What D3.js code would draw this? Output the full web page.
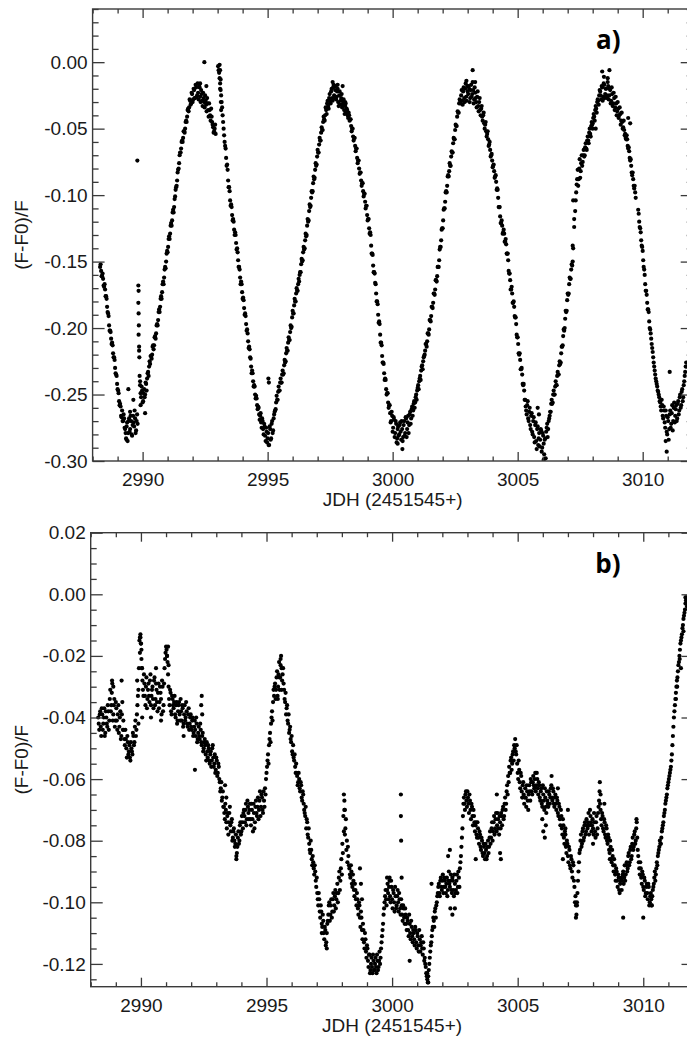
<!DOCTYPE html>
<html>
<head>
<meta charset="utf-8">
<script src="https://cdn.jsdelivr.net/npm/d3@7"></script>
<style>
  html, body { margin: 0; padding: 0; background: #fff; }
  svg { display: block; }
</style>
</head>
<body>
<svg id="fig" width="687" height="1037"></svg>
<script>
// Light curves, JDH - 2451545. Two interleaved exposure sequences per star,
// each sampled every 0.04 d; null marks a gap.
const cadence = 0.04;

// Panel a
const startA = 2988.30;
const fluxA = [
  -.154,-.157,-.161,-.163,-.169,-.171,-.176,-.184,-.189,-.198,-.202,-.208,-.211,-.219,-.222,-.230,-.235,-.242,-.247,-.255,-.257,-.266,-.262,-.270,-.268,
  -.276,-.283,-.271,-.279,-.268,-.276,-.270,-.281,-.266,-.274,-.268,-.277,-.265,null,null,-.243,-.252,-.247,-.255,-.246,-.250,-.242,-.238,-.233,-.229,
  -.227,-.221,-.220,-.213,-.213,-.206,-.204,-.197,-.194,-.186,-.184,-.176,-.173,-.165,-.162,-.154,-.150,-.142,-.139,-.131,-.129,-.121,-.119,-.111,-.109,
  -.101,-.094,-.089,-.081,-.076,-.068,-.065,-.059,-.057,-.052,-.050,-.044,-.041,-.035,-.034,-.029,-.031,-.024,-.028,-.021,-.027,-.019,-.025,-.023,-.018,
  -.026,-.021,-.029,-.023,-.030,-.025,-.032,-.027,-.036,-.031,-.040,-.035,-.045,-.049,-.052,-.047,null,null,-.003,-.008,-.016,-.025,-.034,-.045,-.055,
  -.063,-.072,-.077,-.089,-.094,-.104,-.107,-.115,-.118,-.126,-.128,-.136,-.140,-.149,-.154,-.162,-.165,-.173,-.177,-.185,-.189,-.197,-.201,-.210,-.214,
  -.222,-.229,-.232,-.240,-.243,-.250,-.251,-.258,-.259,-.265,-.266,-.271,-.268,-.276,-.272,-.281,-.275,-.286,-.279,-.288,-.276,-.283,-.270,-.277,-.265,
  -.262,-.256,-.254,-.248,-.247,-.241,-.241,-.235,-.235,-.228,-.226,-.219,-.217,-.211,-.209,-.203,-.200,-.192,-.189,-.183,-.180,-.174,-.172,-.167,-.165,
  -.158,-.152,-.150,-.143,-.141,-.134,-.131,-.123,-.120,-.112,-.109,-.102,-.098,-.091,-.088,-.081,-.078,-.071,-.068,-.062,-.059,-.053,-.051,-.045,-.043,
  -.040,-.036,-.031,-.033,-.027,-.029,-.022,-.027,-.019,-.025,-.021,-.028,-.022,-.030,-.025,-.032,-.027,-.034,-.030,-.036,-.033,-.038,-.036,-.042,-.040,
  -.043,-.048,-.050,-.056,-.057,-.063,-.065,-.072,-.074,-.080,-.083,-.089,-.091,-.097,-.099,-.105,-.108,-.115,-.118,-.125,-.128,-.138,-.144,-.153,-.158,
  -.166,-.174,-.180,-.190,-.195,-.205,-.211,-.221,-.226,-.234,-.238,-.246,-.249,-.256,-.258,-.264,-.270,-.266,-.275,-.269,-.279,-.272,-.283,-.274,-.280,
  -.271,-.284,-.276,-.282,-.270,-.279,-.268,-.276,-.266,-.273,-.263,-.268,-.259,-.262,-.255,-.256,-.250,-.247,-.243,-.240,-.236,-.232,-.228,-.225,-.221,
  -.217,-.212,-.210,-.204,-.201,-.194,-.191,-.184,-.181,-.174,-.171,-.164,-.161,-.154,-.149,-.139,-.134,-.125,-.119,-.110,-.105,-.097,-.093,-.085,-.082,
  -.078,-.071,-.068,-.061,-.058,-.051,-.048,-.041,-.038,-.031,-.029,-.025,-.029,-.022,-.027,-.020,-.026,-.018,-.024,-.020,-.027,-.017,-.024,-.021,-.028,
  -.023,-.030,-.026,-.033,-.030,-.036,-.035,-.041,-.040,-.046,-.047,-.052,-.054,-.058,-.062,-.066,-.070,-.074,-.078,-.082,-.086,-.090,-.095,-.102,-.109,
  -.116,-.121,-.123,-.128,-.129,-.135,-.137,-.144,-.149,-.159,-.164,-.171,-.174,-.181,-.184,-.192,-.197,-.207,-.212,-.220,-.224,-.231,-.235,-.243,-.247,
  -.254,-.262,-.258,-.268,-.263,-.273,-.266,-.278,-.270,-.282,-.273,-.285,-.276,-.288,-.279,-.284,-.277,-.290,-.281,-.295,-.283,-.278,-.272,-.276,-.268,
  -.263,-.257,-.257,-.250,-.250,-.244,-.243,-.236,-.235,-.228,-.227,-.219,-.214,-.206,-.202,-.193,-.188,-.179,-.175,-.167,-.163,-.156,-.153,-.140,-.124,
  -.112,-.098,-.088,-.093,-.080,-.087,-.076,-.078,-.070,-.071,-.064,-.065,-.059,-.059,-.053,-.054,-.048,-.047,-.042,-.041,-.036,-.035,-.030,-.029,-.025,
  -.022,-.028,-.019,-.026,-.017,-.024,-.020,-.027,-.018,-.025,-.021,-.029,-.024,-.031,-.027,-.034,-.031,-.037,-.035,-.040,-.039,-.044,-.045,-.049,-.051,
  -.054,-.058,-.058,-.065,-.067,-.074,-.078,-.085,-.088,-.095,-.098,null,null,-.111,-.120,-.125,-.134,-.139,-.149,-.156,-.167,-.172,-.181,-.186,-.195,
  -.201,-.208,-.215,-.222,-.229,-.235,-.240,-.244,-.248,-.252,-.256,-.262,-.258,-.268,-.262,-.275,-.266,-.280,-.270,-.276,-.262,-.272,-.258,-.270,-.256,
  -.266,-.258,-.268,-.255,-.262,-.250,-.258,-.246,-.252,-.240,-.233,-.226
];
const startA2 = 2988.32;
const fluxA2 = [
  -.152,-.161,-.159,-.168,-.167,-.176,-.178,-.188,-.191,-.202,-.203,-.212,-.213,-.222,-.224,-.234,-.236,-.246,-.249,-.258,-.259,-.267,-.270,-.265,-.275,
  -.279,-.274,-.285,-.270,-.278,-.266,-.280,-.273,-.271,-.262,-.279,-.270,-.272,null,null,-.249,-.244,-.256,-.249,-.252,-.241,-.247,-.234,-.236,-.225,
  -.221,-.223,-.214,-.216,-.207,-.208,-.198,-.198,-.188,-.188,-.178,-.178,-.167,-.167,-.156,-.155,-.144,-.143,-.133,-.133,-.123,-.123,-.113,-.113,-.103,
  -.096,-.093,-.083,-.080,-.070,-.068,-.060,-.060,-.052,-.053,-.045,-.045,-.036,-.037,-.028,-.032,-.023,-.030,-.020,-.027,-.017,-.026,-.016,-.028,-.019,
  -.030,-.024,-.033,-.027,-.034,-.029,-.037,-.031,-.041,-.036,-.044,-.041,-.047,-.053,-.050,-.054,null,null,-.006,-.012,-.021,-.030,-.040,-.050,-.060,
  -.065,-.078,-.081,-.094,-.097,-.108,-.109,-.119,-.120,-.130,-.130,-.141,-.143,-.154,-.156,-.167,-.167,-.178,-.179,-.190,-.191,-.202,-.204,-.215,-.216,
  -.223,-.234,-.234,-.244,-.244,-.253,-.253,-.261,-.260,-.269,-.264,-.275,-.270,-.280,-.274,-.285,-.278,-.283,-.288,-.274,-.284,-.272,-.279,-.268,-.263,
  -.261,-.251,-.254,-.244,-.247,-.238,-.241,-.232,-.234,-.224,-.225,-.215,-.217,-.207,-.209,-.198,-.199,-.187,-.189,-.178,-.180,-.170,-.172,-.163,-.160,
  -.158,-.148,-.149,-.139,-.140,-.129,-.130,-.118,-.119,-.107,-.108,-.097,-.097,-.086,-.087,-.076,-.077,-.066,-.068,-.057,-.059,-.049,-.051,-.041,-.044,
  -.034,-.039,-.029,-.035,-.024,-.031,-.020,-.029,-.017,-.027,-.018,-.026,-.020,-.033,-.022,-.029,-.024,-.032,-.028,-.039,-.031,-.035,-.040,-.038,-.044,
  -.043,-.052,-.050,-.059,-.057,-.067,-.065,-.076,-.074,-.084,-.083,-.093,-.091,-.101,-.099,-.110,-.108,-.119,-.118,-.129,-.130,-.144,-.145,-.158,-.159,
  -.167,-.180,-.182,-.196,-.197,-.211,-.213,-.226,-.227,-.239,-.239,-.250,-.249,-.260,-.258,-.271,-.263,-.278,-.267,-.282,-.270,-.286,-.276,-.281,-.273,
  -.278,-.270,-.285,-.273,-.281,-.267,-.282,-.271,-.279,-.265,-.272,-.261,-.266,-.257,-.260,-.252,-.254,-.245,-.246,-.238,-.239,-.229,-.231,-.222,-.220,
  -.212,-.214,-.204,-.205,-.194,-.195,-.184,-.185,-.174,-.175,-.164,-.165,-.154,-.154,-.141,-.139,-.126,-.125,-.111,-.110,-.098,-.098,-.086,-.086,-.076,
  -.078,-.067,-.068,-.057,-.058,-.047,-.048,-.037,-.038,-.028,-.031,-.021,-.032,-.019,-.030,-.016,-.029,-.022,-.018,-.030,-.021,-.026,-.015,-.031,-.019,
  -.027,-.034,-.022,-.037,-.027,-.040,-.033,-.044,-.038,-.050,-.045,-.056,-.052,-.063,-.060,-.071,-.069,-.079,-.077,-.087,-.085,-.096,-.096,-.109,-.109,
  -.121,-.119,-.129,-.126,-.135,-.133,-.144,-.144,-.157,-.159,-.171,-.169,-.181,-.180,-.191,-.192,-.205,-.207,-.219,-.219,-.231,-.230,-.242,-.242,-.254,
  -.259,-.265,-.255,-.270,-.260,-.276,-.264,-.280,-.267,-.286,-.271,-.291,-.274,-.283,-.289,-.276,-.293,-.279,-.287,-.284,-.298,-.275,-.282,-.270,-.266,
  -.263,-.254,-.256,-.247,-.250,-.240,-.243,-.233,-.235,-.225,-.226,-.214,-.213,-.201,-.200,-.187,-.187,-.174,-.174,-.162,-.163,-.152,-.150,null,null,
  -.104,-.092,-.081,-.088,-.073,-.082,-.070,-.075,-.066,-.070,-.061,-.066,-.056,-.061,-.050,-.056,-.045,-.050,-.039,-.044,-.033,-.038,-.028,-.032,-.021,
  -.025,-.018,-.029,-.016,-.027,-.020,-.025,-.015,-.028,-.020,-.031,-.019,-.033,-.023,-.036,-.026,-.040,-.030,-.042,-.034,-.047,-.038,-.050,-.044,-.055,
  -.057,-.055,-.063,-.064,-.072,-.073,-.083,-.083,-.093,-.093,-.102,null,null,-.114,-.124,-.128,-.138,-.142,-.154,-.160,-.172,-.175,-.186,-.188,-.200,
  -.204,-.212,-.218,-.226,-.232,-.238,-.242,-.247,-.250,-.255,-.259,-.254,-.266,-.259,-.271,-.262,-.278,-.267,-.284,-.265,-.275,-.264,-.277,-.260,-.271,
  -.261,-.270,-.257,-.265,-.252,-.260,-.248,-.255,-.243,-.236,-.229
];
// Off-cadence and outlying measurements, [JDH, (F-F0)/F]
const extraA = [
  [2989.79,-.074],[2989.36,-.284],[2989.43,-.246],[2989.50,-.263],[2989.63,-.254],
  [2989.83,-.168],[2989.84,-.172],[2989.83,-.181],[2989.84,-.189],[2989.85,-.198],[2989.84,-.205],
  [2989.86,-.214],[2989.86,-.217],[2989.87,-.222],[2989.88,-.236],[2989.90,-.240],[2989.92,-.258],[2990.10,-.264],
  [2992.47,.000],[2992.30,-.016],[2992.55,-.018],
  [2993.08,-.002],[2993.10,-.006],[2993.12,-.013],[2993.10,-.020],[2993.13,-.030],[2993.14,-.036],
  [2995.03,-.238],[2995.05,-.241],
  [2997.60,-.015],[2997.80,-.017],[2998.00,-.018],[2998.10,-.030],
  [3000.39,-.291],[3000.20,-.287],
  [3002.95,-.014],[3003.20,-.006],[3003.30,-.015],
  [3005.80,-.260],[3005.85,-.265],[3006.04,-.299],
  [3007.22,-.104],[3007.26,-.118],[3007.20,-.138],
  [3008.00,-.046],[3008.12,-.050],[3008.38,-.007],[3008.45,-.011],[3008.60,-.012],[3008.67,-.006],
  [3009.42,-.042],[3009.50,-.046],
  [3010.92,-.285],[3010.96,-.293],[3011.08,-.233]
];

// Panel b
const startB = 2988.30;
const fluxB = [
  -.040,-.044,-.038,-.046,-.039,-.042,-.037,-.045,-.040,-.043,-.038,-.041,-.031,-.036,-.029,-.039,-.034,-.041,-.037,-.044,-.036,-.043,-.038,-.046,-.035,
  -.041,-.047,-.044,-.050,-.046,-.052,-.049,-.054,-.050,-.052,-.046,-.048,-.041,-.044,-.036,-.031,-.015,-.013,-.018,-.028,-.033,-.029,-.036,-.027,-.034,
  -.029,-.035,-.026,-.033,-.030,-.037,-.027,-.034,-.031,-.038,-.029,-.035,-.032,-.039,-.030,-.036,-.024,-.019,-.018,-.022,-.030,-.036,-.032,-.039,-.034,
  -.037,-.033,-.040,-.035,-.041,-.036,-.039,-.034,-.041,-.037,-.042,-.036,-.040,-.038,-.043,-.037,-.042,-.039,-.044,-.040,-.045,-.041,-.046,-.042,-.047,
  -.043,-.047,-.044,-.049,-.045,-.050,-.047,-.052,-.048,-.053,-.050,-.055,-.051,-.054,-.049,-.056,-.052,-.057,-.054,-.058,-.056,-.061,-.063,-.067,-.064,
  -.069,-.073,-.070,-.076,-.071,-.074,-.069,-.077,-.073,-.079,-.076,-.082,-.078,-.084,-.079,-.081,-.075,-.078,-.072,-.076,-.070,-.074,-.068,-.073,-.069,
  -.073,-.068,-.075,-.070,-.077,-.071,-.074,-.067,-.072,-.066,-.070,-.064,-.069,-.066,-.071,-.067,-.063,-.060,-.056,-.052,-.049,-.045,-.042,-.038,-.035,
  -.033,-.029,-.031,-.025,-.030,-.022,-.027,-.020,-.028,-.024,-.031,-.035,-.039,-.036,-.042,-.045,-.043,-.048,-.051,-.049,-.054,-.056,-.055,-.059,-.061,
  -.060,-.064,-.062,-.067,-.065,-.070,-.072,-.076,-.074,-.079,-.081,-.084,-.083,-.088,-.087,-.091,-.090,-.095,-.097,-.101,-.099,-.105,-.103,-.108,-.106,
  -.112,-.109,-.113,-.107,-.104,-.100,-.104,-.099,-.103,-.097,-.101,-.096,-.099,-.094,-.097,-.090,-.093,-.086,-.081,-.072,-.067,-.076,-.083,-.087,-.085,
  -.089,-.092,-.090,-.095,-.093,-.098,-.096,-.101,-.099,-.104,-.101,-.108,-.105,-.112,-.109,-.115,-.112,-.118,-.115,-.121,-.117,-.122,-.118,-.123,-.119,
  -.122,-.118,-.123,-.119,-.121,-.116,-.118,-.113,-.109,-.104,-.100,-.096,-.101,-.094,-.099,-.093,-.100,-.095,-.102,-.097,-.103,-.098,-.101,-.096,-.103,
  -.099,-.104,-.101,-.106,-.102,-.107,-.104,-.109,-.106,-.111,-.107,-.112,-.108,-.113,-.110,-.114,-.109,-.115,-.111,-.116,-.112,-.114,-.111,-.117,-.115,
  -.118,-.121,-.124,-.126,-.122,-.118,-.114,-.111,-.108,-.106,-.103,-.105,-.100,-.097,-.094,-.098,-.092,-.096,-.091,-.095,-.093,-.097,-.092,-.096,-.090,
  -.095,-.091,-.097,-.093,-.098,-.094,-.096,-.091,-.095,-.092,-.089,-.085,-.079,-.072,-.066,-.070,-.064,-.069,-.066,-.071,-.067,-.073,-.069,-.075,-.072,
  -.077,-.074,-.079,-.076,-.081,-.078,-.083,-.080,-.085,-.082,-.086,-.083,-.085,-.080,-.082,-.077,-.079,-.074,-.077,-.072,-.076,-.071,-.075,-.073,-.078,
  -.074,-.071,-.075,-.069,-.072,-.066,-.068,-.062,-.059,-.056,-.058,-.053,-.055,-.051,-.049,-.047,-.052,-.055,-.060,-.057,-.063,-.059,-.066,-.061,-.068,
  -.063,-.069,-.064,-.070,-.062,-.067,-.061,-.065,-.059,-.063,-.058,-.062,-.060,-.065,-.062,-.067,-.063,-.069,-.065,-.070,-.066,-.071,-.067,-.069,-.065,
  -.066,-.062,-.067,-.064,-.069,-.065,-.070,-.067,-.072,-.069,-.075,-.072,-.078,-.075,-.081,-.078,-.084,-.081,-.087,-.083,-.089,-.086,-.092,-.088,-.095,
  -.098,-.104,-.097,-.090,-.084,-.080,-.082,-.077,-.080,-.075,-.078,-.073,-.076,-.071,-.075,-.072,-.077,-.073,-.078,-.074,-.079,-.072,-.076,-.069,-.064,
  -.070,-.075,-.072,-.077,-.074,-.079,-.076,-.081,-.079,-.084,-.082,-.087,-.085,-.090,-.088,-.093,-.090,-.095,-.092,-.097,-.093,-.096,-.091,-.094,-.088,
  -.091,-.087,-.089,-.084,-.087,-.082,-.085,-.079,-.082,-.077,-.080,-.074,-.083,-.087,-.091,-.089,-.094,-.091,-.096,-.093,-.097,-.094,-.099,-.095,-.100,
  -.097,-.101,-.096,-.094,-.090,-.091,-.087,-.085,-.083,-.080,-.081,-.077,-.075,-.072,-.070,-.067,-.065,-.062,-.060,-.058,-.056,-.052,-.046,-.040,-.036,
  -.032,-.028,-.025,-.022,-.018,-.015,-.013,-.010,-.007,-.005,-.002,-.004
];
const startB2 = 2988.32;
const fluxB2 = [
  -.042,-.039,-.043,-.037,-.044,-.040,-.046,-.038,-.042,-.036,-.044,-.034,-.038,-.032,-.041,-.036,-.043,-.035,-.041,-.039,-.045,-.040,-.047,-.039,-.044,
  -.044,-.049,-.047,-.053,-.048,-.051,-.053,-.048,-.051,-.045,-.049,-.043,-.046,-.039,-.033,-.024,-.014,-.016,-.024,-.031,-.026,-.033,-.030,-.037,-.031,
  -.033,-.028,-.036,-.031,-.034,-.028,-.036,-.029,-.035,-.032,-.037,-.030,-.034,-.028,-.038,-.029,-.021,-.017,-.020,-.026,-.034,-.031,-.038,-.033,-.036,
  -.035,-.039,-.036,-.042,-.038,-.035,-.041,-.038,-.036,-.043,-.039,-.041,-.035,-.042,-.039,-.044,-.040,-.043,-.041,-.046,-.043,-.044,-.040,-.048,-.045,
  -.046,-.042,-.048,-.046,-.051,-.048,-.049,-.054,-.051,-.049,-.054,-.052,-.056,-.050,-.053,-.055,-.058,-.053,-.059,-.055,-.060,-.064,-.061,-.066,-.069,
  -.071,-.068,-.074,-.072,-.078,-.071,-.075,-.074,-.080,-.077,-.080,-.081,-.085,-.082,-.077,-.080,-.074,-.077,-.074,-.071,-.072,-.070,-.075,-.067,-.071,
  -.070,-.073,-.068,-.073,-.068,-.076,-.069,-.071,-.069,-.073,-.067,-.072,-.065,-.070,-.064,-.069,-.065,-.058,-.054,-.055,-.047,-.048,-.040,-.041,-.031,
  -.030,-.034,-.027,-.033,-.026,-.031,-.023,-.031,-.026,-.029,-.034,-.032,-.037,-.041,-.039,-.044,-.047,-.046,-.052,-.053,-.052,-.058,-.058,-.062,-.058,
  -.063,-.061,-.066,-.064,-.068,-.071,-.069,-.073,-.078,-.076,-.083,-.080,-.086,-.085,-.089,-.088,-.093,-.092,-.099,-.097,-.103,-.101,-.107,-.104,-.110,
  -.108,-.114,-.110,-.106,-.101,-.106,-.101,-.105,-.099,-.103,-.098,-.102,-.097,-.100,-.092,-.096,-.089,-.091,-.084,-.077,-.070,-.073,-.080,-.082,-.088,
  -.091,-.088,-.094,-.091,-.096,-.094,-.099,-.097,-.102,-.100,-.105,-.103,-.109,-.107,-.113,-.110,-.116,-.114,-.119,-.117,-.123,-.120,-.121,-.117,-.122,
  -.120,-.121,-.117,-.122,-.119,-.120,-.115,-.111,-.107,-.102,-.098,-.099,-.096,-.097,-.095,-.098,-.093,-.099,-.096,-.100,-.095,-.102,-.098,-.100,-.097,
  -.102,-.099,-.104,-.101,-.105,-.102,-.107,-.105,-.109,-.104,-.110,-.106,-.111,-.109,-.112,-.108,-.113,-.110,-.114,-.109,-.116,-.113,-.115,-.113,-.119,
  -.120,-.123,-.125,-.124,-.120,-.116,-.113,-.109,-.105,-.108,-.102,-.101,-.098,-.095,-.097,-.093,-.095,-.093,-.097,-.092,-.095,-.094,-.098,-.093,-.094,
  -.093,-.096,-.092,-.096,-.091,-.097,-.093,-.097,-.090,-.095,-.087,-.082,-.076,-.068,-.068,-.065,-.067,-.064,-.068,-.065,-.070,-.068,-.072,-.070,-.074,
  -.075,-.078,-.074,-.079,-.077,-.082,-.079,-.084,-.081,-.084,-.081,-.086,-.082,-.084,-.079,-.081,-.076,-.080,-.074,-.078,-.073,-.077,-.071,-.076,-.072,
  -.076,-.072,-.070,-.073,-.068,-.070,-.064,-.065,-.061,-.058,-.054,-.057,-.052,-.054,-.050,-.051,-.049,-.058,-.054,-.061,-.058,-.064,-.062,-.065,-.066,
  -.066,-.062,-.067,-.065,-.064,-.060,-.064,-.061,-.062,-.060,-.064,-.058,-.063,-.061,-.066,-.064,-.068,-.062,-.067,-.063,-.069,-.064,-.068,-.064,-.068,
  -.063,-.066,-.063,-.068,-.066,-.068,-.066,-.071,-.068,-.073,-.070,-.076,-.073,-.079,-.077,-.082,-.080,-.085,-.082,-.088,-.085,-.090,-.087,-.093,-.100,
  -.101,-.100,-.093,-.087,-.083,-.078,-.081,-.076,-.079,-.074,-.077,-.075,-.074,-.078,-.070,-.074,-.075,-.076,-.071,-.077,-.074,-.078,-.071,-.067,-.068,
  -.073,-.071,-.076,-.073,-.078,-.075,-.080,-.078,-.083,-.080,-.086,-.083,-.088,-.086,-.091,-.089,-.093,-.091,-.096,-.094,-.092,-.093,-.090,-.092,-.093,
  -.088,-.090,-.085,-.088,-.083,-.086,-.081,-.083,-.078,-.081,-.076,-.079,-.085,-.089,-.087,-.092,-.090,-.095,-.092,-.098,-.095,-.097,-.094,-.101,-.098,
  -.099,-.098,-.095,-.092,-.093,-.089,-.088,-.084,-.082,-.081,-.079,-.076,-.074,-.071,-.068,-.066,-.063,-.061,-.059,-.057,-.054,-.049,-.043,-.038,-.034,
  -.030,-.027,-.023,-.020,-.016,-.014,-.011,-.008,-.006,-.003,-.001
];
const extraB = [
  [2988.85,-.028],[2988.90,-.030],[2989.23,-.028],
  [2989.85,-.028],[2989.90,-.042],[2989.96,-.019],[2989.98,-.014],[2990.00,-.016],[2990.02,-.021],[2990.04,-.024],[2990.05,-.040],
  [2990.40,-.040],[2990.60,-.024],[2990.80,-.041],[2991.04,-.020],[2991.08,-.017],[2991.10,-.023],
  [2991.70,-.046],[2992.40,-.036],[2992.42,-.033],[2992.44,-.039],[2992.15,-.057],
  [2993.35,-.062],[2993.40,-.066],[2993.80,-.086],
  [2995.45,-.034],[2995.52,-.027],[2995.56,-.021],[2995.60,-.024],
  [2997.20,-.110],[2997.40,-.115],[2998.08,-.065],[2998.10,-.070],[2998.12,-.078],
  [2998.72,-.089],[2998.76,-.094],[2998.80,-.099],
  [2999.80,-.092],[2999.90,-.092],
  [3000.35,-.065],[3000.35,-.072],[3000.36,-.080],[3000.38,-.092],[3000.70,-.119],
  [3001.40,-.123],[3001.44,-.126],[3001.57,-.094],[3002.23,-.085],
  [3002.30,-.083],[3002.32,-.102],[3002.40,-.104],[3002.50,-.102],
  [3003.33,-.086],[3004.17,-.065],[3004.30,-.084],[3004.33,-.086],
  [3005.98,-.073],[3006.02,-.077],[3006.08,-.079],[3006.12,-.075],
  [3006.35,-.059],[3006.60,-.063],[3006.80,-.086],[3006.90,-.076],[3007.00,-.070],
  [3007.32,-.105],[3007.36,-.101],[3008.00,-.081],[3008.27,-.061],[3008.30,-.065],
  [3008.45,-.068],[3008.67,-.086],[3009.20,-.105],
  [3009.73,-.073],[3010.00,-.105],[3010.33,-.101],
  [3011.30,-.034],[3011.35,-.030],[3011.45,-.021],[3011.50,-.024],[3011.60,-.012],[3011.68,-.001]
];

// Axis ranges and tick labels
const xDomain = [2988, 3012];
const xTicks = [2990, 2995, 3000, 3005, 3010];
const yDomainA = [-0.30, 0.04];
const yTicksA = [0.00, -0.05, -0.10, -0.15, -0.20, -0.25, -0.30];
const yDomainB = [-0.1274, 0.02];
const yTicksB = [0.02, 0.00, -0.02, -0.04, -0.06, -0.08, -0.10, -0.12];
const xTitle = "JDH (2451545+)";
const yTitle = "(F-F0)/F";

const TICK_FONT = "'Liberation Sans', Arial, Helvetica, sans-serif";
const INK = "#1a1a1a";
const AXIS = "#3a3a3a";

const svg = d3.select("#fig");
svg.append("rect").attr("width", 687).attr("height", 1037).attr("fill", "#fff");

function toPoints(series, extra) {
  const pts = [];
  series.forEach(([start, values]) => {
    values.forEach((v, i) => {
      if (v !== null) pts.push({ t: +(start + i * cadence).toFixed(2), v });
    });
  });
  extra.forEach(([t, v]) => pts.push({ t, v }));
  return pts;
}

function drawPanel(cfg) {
  const { left, right, top, bottom } = cfg;
  const x = d3.scaleLinear().domain(xDomain).range([left, right]);
  const y = d3.scaleLinear().domain(cfg.yDomain).range([bottom, top]);
  const g = svg.append("g");

  // keep the dots inside the frame
  const clipId = "clip-" + cfg.tag;
  g.append("clipPath").attr("id", clipId)
    .append("rect").attr("x", left).attr("y", top)
    .attr("width", right - left).attr("height", bottom - top);

  g.append("g").attr("clip-path", `url(#${clipId})`)
    .selectAll("circle").data(cfg.points).join("circle")
    .attr("cx", d => x(d.t)).attr("cy", d => y(d.v))
    .attr("r", 2.1).attr("fill", "#000");

  // inward ticks on all four sides, labels only bottom and left
  const xMaj = 9, xMin = 4.5, yMaj = 12, yMin = 6;
  const xMinor = d3.range(xDomain[0], xDomain[1] + 1).filter(v => !xTicks.includes(v));

  const axes = [
    [d3.axisBottom(x).tickValues(xTicks).tickSizeInner(-xMaj).tickPadding(11.5).tickFormat(d3.format("d")), 0, bottom],
    [d3.axisBottom(x).tickValues(xMinor).tickSizeInner(-xMin).tickFormat(""), 0, bottom],
    [d3.axisTop(x).tickValues(xTicks).tickSizeInner(-xMaj).tickFormat(""), 0, top],
    [d3.axisTop(x).tickValues(xMinor).tickSizeInner(-xMin).tickFormat(""), 0, top],
    [d3.axisLeft(y).tickValues(cfg.yTicks).tickSizeInner(-yMaj).tickPadding(5).tickFormat(v => v.toFixed(2)), left, 0],
    [d3.axisLeft(y).tickValues(cfg.yMinor).tickSizeInner(-yMin).tickFormat(""), left, 0],
    [d3.axisRight(y).tickValues(cfg.yTicks).tickSizeInner(-yMaj).tickFormat(""), right, 0],
    [d3.axisRight(y).tickValues(cfg.yMinor).tickSizeInner(-yMin).tickFormat(""), right, 0]
  ];
  axes.forEach(([ax, tx, ty]) => {
    const a = g.append("g").attr("transform", `translate(${tx},${ty})`);
    a.call(ax.tickSizeOuter(0));
    a.select(".domain").remove();
    a.selectAll(".tick line").attr("stroke", AXIS).attr("stroke-width", 1.3);
    a.attr("font-family", TICK_FONT).attr("font-size", 19);
    a.selectAll(".tick text").attr("fill", INK);
  });

  g.append("rect").attr("x", left).attr("y", top)
    .attr("width", right - left).attr("height", bottom - top)
    .attr("fill", "none").attr("stroke", AXIS).attr("stroke-width", 1.4);

  g.append("text").attr("x", (left + right) / 2).attr("y", bottom + 45)
    .attr("text-anchor", "middle").attr("font-family", TICK_FONT)
    .attr("font-size", 19).attr("fill", INK).text(xTitle);

  g.append("text")
    .attr("transform", `translate(27.5,${(top + bottom) / 2}) rotate(-90)`)
    .attr("text-anchor", "middle").attr("font-family", TICK_FONT)
    .attr("font-size", 19).attr("fill", INK).text(yTitle);

  g.append("text").attr("x", 620.5).attr("y", top + 40)
    .attr("text-anchor", "end").attr("font-family", "'Open Sans', Lato, sans-serif")
    .attr("font-weight", 700).attr("font-size", 26).attr("fill", "#000")
    .text(cfg.tag + ")");
}

drawPanel({
  tag: "a", left: 92.6, right: 692.7, top: 9, bottom: 461,
  yDomain: yDomainA, yTicks: yTicksA,
  yMinor: d3.range(-30, 5).map(k => k / 100).filter(v => !yTicksA.some(t => Math.abs(t - v) < 1e-9)),
  points: toPoints([[startA, fluxA], [startA2, fluxA2]], extraA)
});

drawPanel({
  tag: "b", left: 90.7, right: 693.5, top: 532.7, bottom: 986.7,
  yDomain: yDomainB, yTicks: yTicksB,
  yMinor: d3.range(-25, 5).map(k => k * 0.005).filter(v => !yTicksB.some(t => Math.abs(t - v) < 1e-9)),
  points: toPoints([[startB, fluxB], [startB2, fluxB2]], extraB)
});
</script>
</body>
</html>
